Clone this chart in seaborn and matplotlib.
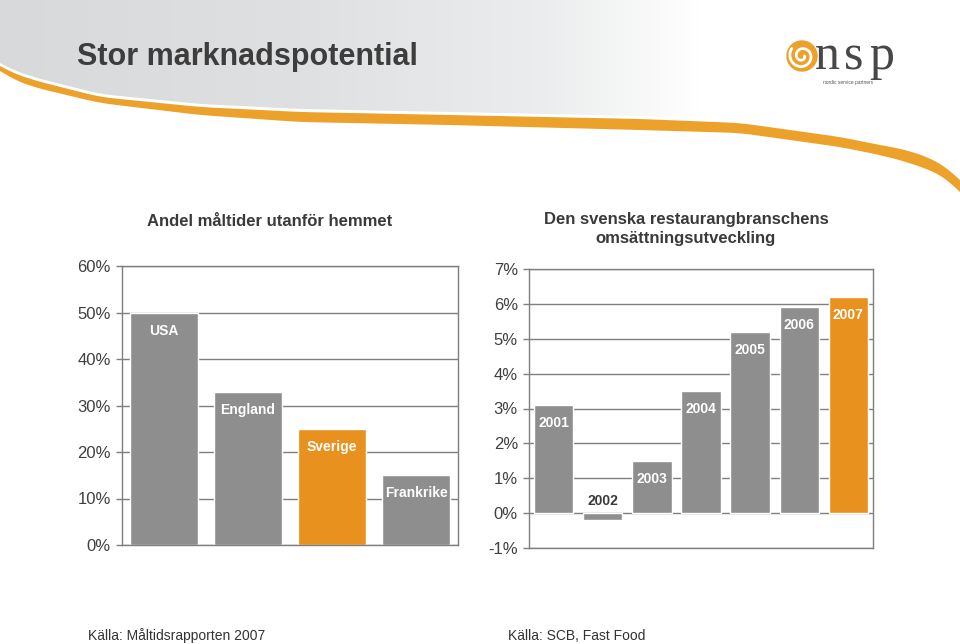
import numpy as np
import matplotlib
matplotlib.use('Agg')
import matplotlib.pyplot as plt
import seaborn as sns
from matplotlib.patches import Polygon, Circle

# data
countries = ['USA', 'England', 'Sverige', 'Frankrike']
share_out = [50, 33, 25, 15]
years = ['2001', '2002', '2003', '2004', '2005', '2006', '2007']
growth = [3.1, -0.2, 1.5, 3.5, 5.2, 5.9, 6.2]
left_ticks = [0, 10, 20, 30, 40, 50, 60]
right_ticks = [-1, 0, 1, 2, 3, 4, 5, 6, 7]

GRAY = '#8e8e8e'
ORANGE = '#e8911f'
LINE = '#7f7f7f'
TXT = '#3a3a3a'

sns.set_theme(style='white')
plt.rcParams['font.family'] = ['Liberation Sans', 'DejaVu Sans']

fig = plt.figure(figsize=(9.6, 6.44), dpi=100)

# background banner + swoosh (pixel coords)
bg = fig.add_axes([0, 0, 1, 1], zorder=0)
bg.set_xlim(0, 960)
bg.set_ylim(644, 0)
bg.axis('off')
sx = [0, 10, 33, 100, 200, 300, 450, 640, 740, 840, 880, 907, 935, 950, 960]
s_top = [66, 72, 80, 97, 107, 112, 115, 119, 123, 137, 145, 150, 160, 170, 180]
s_bot = [71, 78, 87, 103, 115, 122, 125, 130, 133, 147, 155, 162, 172, 181, 192]
xs = np.linspace(0, 960, 961)


def smooth(y, w=31):
    pad = np.pad(y, w, mode='reflect', reflect_type='odd')
    return np.convolve(pad, np.ones(w) / w, mode='same')[w:-w]


ytop = smooth(np.interp(xs, sx, s_top))
ybot = smooth(np.interp(xs, sx, s_bot))

gx = [0, 300, 550, 700, 960]
gc = np.array([[216, 217, 219], [223, 224, 226], [236, 237, 238], [255, 255, 255], [255, 255, 255]]) / 255
xi = np.linspace(0, 960, 400)
img = np.stack([np.interp(xi, gx, gc[:, k]) for k in range(3)], axis=-1)[None, :, :]
im = bg.imshow(img, extent=(0, 960, 200, 0), aspect='auto', zorder=1)
verts = [(0, 0), (960, 0)] + [(x, y - 3) for x, y in zip(xs[::-1], ytop[::-1])]
clip = Polygon(verts, closed=True, transform=bg.transData, facecolor='none', edgecolor='none')
bg.add_patch(clip)
im.set_clip_path(clip)
bg.fill_between(xs, ytop, ybot, color='#eba12a', lw=0, zorder=2)

# logo
bg.add_patch(Circle((802, 56), 15, color='#eba12a', zorder=3))
th = np.linspace(0, 3.2 * np.pi, 200)
rr = 2.5 + 3.2 * th / np.pi
bg.plot(802 + rr * np.cos(th), 56 + rr * np.sin(th), color='white', lw=2, zorder=4)
serif = ['Liberation Serif', 'DejaVu Serif']
for ch, lx in zip('nsp', [815, 844, 869]):
    bg.text(lx, 69, ch, fontsize=36, family=serif, color='#474747',
            va='baseline', ha='left', zorder=4)
bg.text(823, 84, 'nordic service partners', fontsize=3.5, color='#555555',
        va='baseline', ha='left', zorder=4)

fig.text(77 / 960, 1 - 57 / 644, 'Stor marknadspotential', fontsize=22,
         fontweight='bold', color='#3d3d3d', va='center', ha='left')


def style_axes(ax, ticks, lims):
    ax.set_ylim(*lims)
    ax.set_yticks(ticks)
    ax.set_yticklabels([f'{t}%' for t in ticks])
    ax.set_xticks([])
    ax.set_xlabel('')
    ax.set_ylabel('')
    ax.yaxis.grid(True, color=LINE, lw=1)
    ax.set_axisbelow(True)
    for s in ax.spines.values():
        s.set_color(LINE)
        s.set_linewidth(1)
    ax.tick_params(axis='y', left=True, length=4, width=1, color=LINE,
                   labelsize=12, labelcolor='#404040', pad=4)


# left chart
ax1 = fig.add_axes([122 / 960, 1 - 545 / 644, 336 / 960, 279 / 644])
sns.barplot(x=countries, y=share_out, hue=countries,
            palette=[GRAY, GRAY, ORANGE, GRAY], legend=False,
            width=0.82, saturation=1, ax=ax1)
ax1.set_xlim(-0.5, len(countries) - 0.5)
style_axes(ax1, left_ticks, (0, 60))
for i, (c, v) in enumerate(zip(countries, share_out)):
    ax1.annotate(c, (i, v), xytext=(0, -8), textcoords='offset points',
                 ha='center', va='top', color='white', fontweight='bold', fontsize=10)
fig.text(270 / 960, 1 - 222 / 644, 'Andel måltider utanför hemmet', fontsize=12,
         fontweight='bold', color=TXT, ha='center', va='center')

# right chart
ax2 = fig.add_axes([529 / 960, 1 - 548 / 644, 344 / 960, 279 / 644])
sns.barplot(x=years, y=growth, hue=years,
            palette=[GRAY] * 6 + [ORANGE], legend=False,
            width=0.8, saturation=1, ax=ax2)
ax2.set_xlim(-0.5, len(years) - 0.5)
style_axes(ax2, right_ticks, (-1, 7))
for i, (c, v) in enumerate(zip(years, growth)):
    if v >= 0:
        ax2.annotate(c, (i, v), xytext=(0, -8), textcoords='offset points',
                     ha='center', va='top', color='white', fontweight='bold', fontsize=10)
    else:
        ax2.annotate(c, (i, 0), xytext=(0, 4), textcoords='offset points',
                     ha='center', va='bottom', color=TXT, fontweight='bold', fontsize=10)
fig.text(686 / 960, 1 - 229 / 644, 'Den svenska restaurangbranschens\nomsättningsutveckling',
         fontsize=12, fontweight='bold', color=TXT, ha='center', va='center',
         linespacing=1.3)

# sources
fig.text(88 / 960, 1 - 636 / 644, 'Källa: Måltidsrapporten 2007', fontsize=10,
         color='#333333', ha='left', va='center')
fig.text(508 / 960, 1 - 636 / 644, 'Källa: SCB, Fast Food', fontsize=10,
         color='#333333', ha='left', va='center')

fig.savefig('out.png', dpi=100)
